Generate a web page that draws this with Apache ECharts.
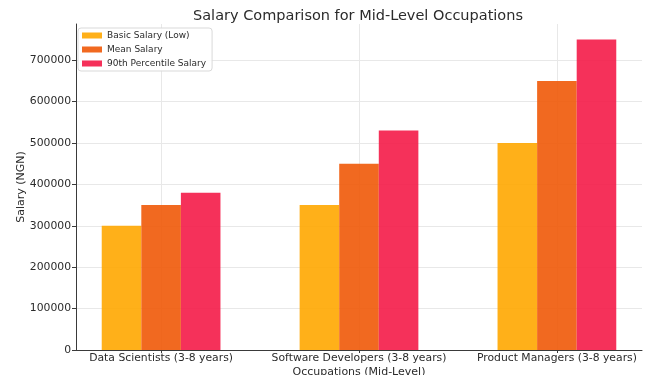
<!DOCTYPE html>
<html>
<head>
<meta charset="utf-8">
<script src="https://cdn.jsdelivr.net/npm/echarts@6/dist/echarts.min.js"></script>
<style>
  html, body { margin: 0; padding: 0; background: #fff; }
  #chart { width: 650px; height: 375px; }
</style>
</head>
<body>
<div id="chart"></div>
<script>
const categories = [
  "Data Scientists (3-8 years)",
  "Software Developers (3-8 years)",
  "Product Managers (3-8 years)",
];
const seriesNames = ["Basic Salary (Low)", "Mean Salary", "90th Percentile Salary"];
const basicSalary = [300000, 350000, 500000];
const meanSalary = [350000, 450000, 650000];
const p90Salary = [380000, 530000, 750000];
const yTicks = [0, 100000, 200000, 300000, 400000, 500000, 600000, 700000];

// seen colours are already mixed with white at ~0.9 alpha
const colors = ["#ffa700", "#f05908", "#f41b48"];
const font = "DejaVu Sans";
const ink = "#2b2b2b";

const ch = echarts.init(document.getElementById("chart"));
const positions = categories.map((_, i) => i);

ch.setOption({
  backgroundColor: "#fff",
  animation: false,
  title: {
    text: "Salary Comparison for Mid-Level Occupations",
    left: 353,
    textAlign: "center",
    top: 4,
    textStyle: { fontFamily: font, fontSize: 14.5, fontWeight: "normal", color: ink },
  },
  legend: {
    orient: "vertical",
    left: 78,
    top: 28,
    padding: [2, 6, 2, 4],
    itemWidth: 20,
    itemHeight: 6,
    itemGap: 3,
    icon: "rect",
    borderColor: "#d9d9d9",
    borderWidth: 1,
    borderRadius: 3,
    backgroundColor: "rgba(255,255,255,0.85)",
    textStyle: { fontFamily: font, fontSize: 9, color: ink, lineHeight: 11 },
    data: seriesNames,
  },
  grid: { left: 76, right: 8, top: 24, bottom: 25, outerBoundsMode: "none" },
  xAxis: {
    type: "value",
    min: -0.43,
    max: 2.43,
    name: "Occupations (Mid-Level)",
    nameLocation: "middle",
    nameGap: 17,
    nameMoveOverlap: false,
    nameTextStyle: { fontFamily: font, fontSize: 11, color: ink },
    axisLine: { show: true, onZero: false, lineStyle: { color: "#3a3a3a", width: 1 } },
    axisTick: { show: true, length: 3, customValues: positions, lineStyle: { color: "#3a3a3a" } },
    axisLabel: {
      customValues: positions,
      margin: 3,
      fontFamily: font,
      fontSize: 10.8,
      color: ink,
      formatter: (v) => categories[Math.round(v)] ?? "",
    },
    splitLine: { show: true, lineStyle: { color: "#e8e8e8", width: 1 } },
  },
  yAxis: {
    type: "value",
    min: 0,
    max: 787500,
    interval: 100000,
    name: "Salary (NGN)",
    nameLocation: "middle",
    nameGap: 49,
    nameMoveOverlap: false,
    nameTextStyle: { fontFamily: font, fontSize: 11, color: ink },
    axisLine: { show: true, onZero: false, lineStyle: { color: "#3a3a3a", width: 1 } },
    axisTick: { show: true, length: 4, lineStyle: { color: "#3a3a3a" } },
    axisLabel: {
      margin: 5,
      fontFamily: font,
      fontSize: 10.8,
      color: ink,
      showMaxLabel: false,
      formatter: (v) => (yTicks.includes(v) ? String(v) : ""),
    },
    splitLine: { show: true, showMaxLine: false, lineStyle: { color: "#e8e8e8", width: 1 } },
  },
  series: [basicSalary, meanSalary, p90Salary].map((vals, s) => ({
    name: seriesNames[s],
    type: "bar",
    data: vals.map((v, i) => [positions[i], v]),
    barWidth: "20%",
    barGap: "0%",
    itemStyle: { color: colors[s], opacity: 0.9 },
  })),
});
</script>
</body>
</html>
